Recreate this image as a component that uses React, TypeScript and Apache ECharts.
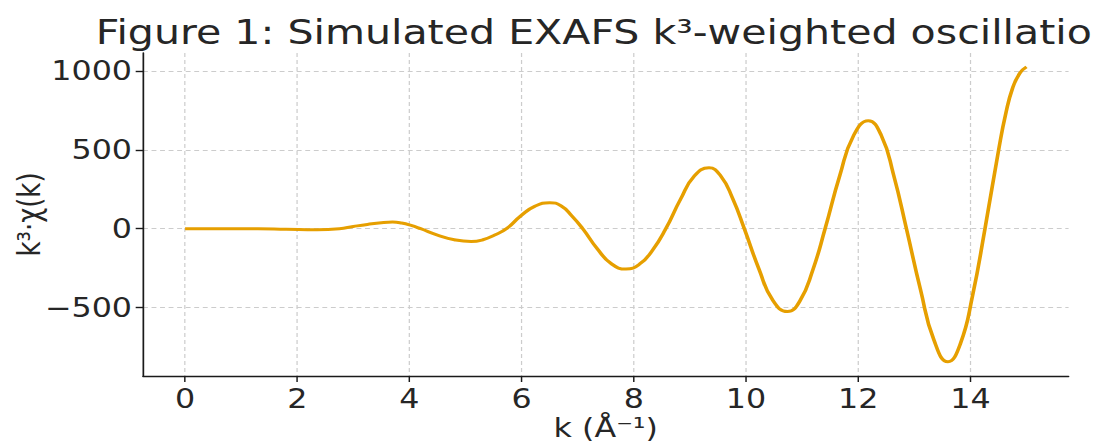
import React, { useEffect, useRef } from "react";
import * as echarts from "echarts";

const titleText = "Figure 1: Simulated EXAFS k³-weighted oscillatio";
const xAxisTitle = "k (Å⁻¹)";
const yAxisTitle = "k³·χ(k)";

const kValues = [
  0, 0.5, 1.0, 1.3, 1.8, 2.35, 2.75, 3.0, 3.25, 3.5, 3.7,
  3.86, 4.03, 4.2, 4.5, 4.8, 5.1,
  5.31, 5.52, 5.73, 5.99, 6.24, 6.5,
  6.7, 6.89, 7.09, 7.35, 7.6, 7.86,
  8.1, 8.33, 8.57, 8.83, 9.08, 9.34,
  9.55, 9.76, 9.97, 10.23, 10.48, 10.74,
  10.96, 11.19, 11.41, 11.67, 11.92, 12.18,
  12.41, 12.63, 12.86, 13.11, 13.35, 13.6,
  13.82, 14.04, 14.26, 14.51, 14.63, 14.75, 14.88, 15.0,
];
const chiValues = [
  0, 0, 0.5, 0, -3, -6, 0, 14, 27, 38, 42,
  36, 21, 0, -40, -70, -81,
  -70, -40, 0, 83, 143, 165,
  145, 83, 0, -128, -222, -256,
  -225, -138, 0, 185, 334, 386,
  334, 193, 0, -255, -455, -525,
  -458, -262, 0, 335, 592, 684,
  592, 342, 0, -385, -705, -843,
  -730, -421, 0, 512, 728, 888, 985, 1025,
];

const xTicks = [0, 2, 4, 6, 8, 10, 12, 14];
const yTicks = [-500, 0, 500, 1000];

const FONT = "DejaVu Sans";
const TEXT = "#262626";
const STRETCH = 1.22;
const W = 1095 / STRETCH;
const H = 446;

export default function App() {
  const ref = useRef<HTMLDivElement>(null);
  useEffect(() => {
    if (!ref.current) return;
    const chart = echarts.init(ref.current, undefined, { renderer: "svg" });
    const points = kValues.map((k, i) => [k, chiValues[i]]);
    const gridLine = { show: true, lineStyle: { color: "#cccccc", width: 1, type: [4, 3] as any } };
    chart.setOption({
      animation: false,
      backgroundColor: "#ffffff",
      title: {
        text: titleText,
        left: 73.5,
        top: 10.5,
        textStyle: { fontFamily: FONT, fontSize: 33.7, fontWeight: "normal", color: TEXT },
      },
      grid: {
        left: 143 / STRETCH,
        right: 27 / STRETCH,
        top: 53,
        bottom: 70,
        containLabel: false,
        outerBoundsMode: "none",
      },
      xAxis: {
        type: "value",
        min: -0.75,
        max: 15.75,
        name: xAxisTitle,
        nameLocation: "middle",
        nameGap: 39,
        nameMoveOverlap: false,
        nameTextStyle: { fontFamily: FONT, fontSize: 26, color: TEXT },
        axisLine: { show: true, onZero: false, lineStyle: { color: "#1a1a1a", width: 1.4 } },
        axisTick: { show: true, length: 6, customValues: xTicks, lineStyle: { color: "#1a1a1a", width: 1.2 } },
        axisLabel: {
          customValues: xTicks,
          fontFamily: FONT,
          fontSize: 26,
          color: TEXT,
          margin: 10,
        },
        splitLine: gridLine,
      },
      yAxis: {
        type: "value",
        min: -933,
        max: 1113,
        name: yAxisTitle,
        nameLocation: "middle",
        nameGap: 80,
        nameRotate: 90,
        nameMoveOverlap: false,
        nameTextStyle: { fontFamily: FONT, fontSize: 26, color: TEXT },
        axisLine: { show: true, onZero: false, lineStyle: { color: "#1a1a1a", width: 1.4 } },
        axisTick: { show: true, length: 6, customValues: yTicks, lineStyle: { color: "#1a1a1a", width: 1.4 } },
        axisLabel: {
          customValues: yTicks,
          fontFamily: FONT,
          fontSize: 26,
          color: TEXT,
          margin: 9,
          formatter: (v: number) => (v < 0 ? "\u2212" + Math.abs(v) : String(v)),
        },
        splitLine: gridLine,
      },
      series: [
        {
          type: "line",
          data: points,
          smooth: 0.5,
          symbol: "none",
          lineStyle: { color: "#E69F00", width: 3 },
        },
      ],
    });
    return () => chart.dispose();
  }, []);
  return (
    <div
      ref={ref}
      style={{
        position: "absolute",
        left: 0,
        top: 0,
        width: W,
        height: H,
        transform: `scaleX(${STRETCH})`,
        transformOrigin: "0 0",
      }}
    />
  );
}
